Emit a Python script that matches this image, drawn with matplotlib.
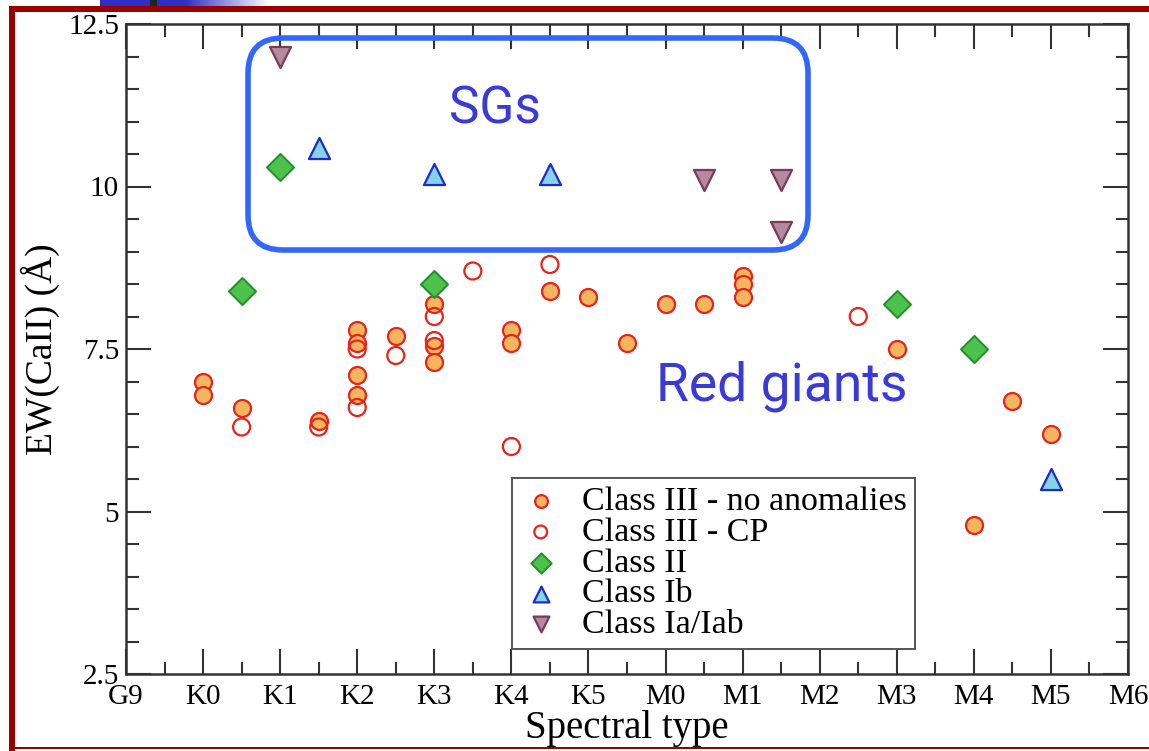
import numpy as np
import matplotlib
matplotlib.use("Agg")
import matplotlib.pyplot as plt
from matplotlib.patches import Rectangle, FancyBboxPatch
from matplotlib.colors import LinearSegmentedColormap
from matplotlib.ticker import MultipleLocator

# spectral type axis: G9 = 0, K0 = 1, ..., K5 = 6, M0 = 7, ..., M6 = 13
sp_labels = ["G9", "K0", "K1", "K2", "K3", "K4", "K5",
             "M0", "M1", "M2", "M3", "M4", "M5", "M6"]

# Class III, no anomalies
c3_x = [1, 1, 1.5, 2.5, 3, 3, 3, 3, 3.5, 4, 4, 4, 5, 5,
        5.5, 6, 6.5, 7, 7.5, 8, 8, 8, 10, 11, 11.5, 12]
c3_y = [7.0, 6.8, 6.6, 6.4, 7.8, 7.6, 7.1, 6.8, 7.7, 8.2, 7.55, 7.3, 7.8, 7.6,
        8.4, 8.3, 7.6, 8.2, 8.2, 8.62, 8.5, 8.3, 7.5, 4.8, 6.7, 6.2]

# Class III, chromospherically peculiar
cp_x = [1.5, 2.5, 3, 3, 3.5, 4, 4, 4.5, 5, 5.5, 9.5]
cp_y = [6.3, 6.3, 7.5, 6.6, 7.4, 8.0, 7.63, 8.7, 6.0, 8.8, 8.0]

# Class II
c2_x = [1.5, 2, 4, 10, 11]
c2_y = [8.4, 10.3, 8.5, 8.2, 7.5]

# Class Ib
cb_x = [2.5, 4, 5.5, 12]
cb_y = [10.6, 10.2, 10.2, 5.5]

# Class Ia/Iab
ca_x = [2, 7.5, 8.5, 8.5]
ca_y = [12.0, 10.1, 10.1, 9.3]

W, H = 1149, 751
fig = plt.figure(figsize=(W / 100, H / 100), dpi=100)
fig.patch.set_facecolor("white")

ax = fig.add_axes([126 / W, 1 - 674 / H, 1002 / W, 650 / H])

serif = ["Liberation Serif", "DejaVu Serif"]

ax.scatter(c3_x, c3_y, s=150, facecolor="#f3b65e", edgecolor="#e8231c",
           linewidth=1.6, zorder=3, label="Class III - no anomalies")
ax.scatter(cp_x, cp_y, s=150, facecolor="none", edgecolor="#e8231c",
           linewidth=1.6, zorder=4, label="Class III - CP")
ax.scatter(c2_x, c2_y, s=190, marker="D", facecolor="#4cc24c",
           edgecolor="#1f8f2a", linewidth=1.4, zorder=3, label="Class II")
ax.scatter(cb_x, cb_y, s=230, marker="^", facecolor="#86d3e6",
           edgecolor="#1b2bd0", linewidth=1.6, zorder=3, label="Class Ib")
ax.scatter(ca_x, ca_y, s=230, marker="v", facecolor="#b48a9e",
           edgecolor="#7a3b5a", linewidth=1.6, zorder=3, label="Class Ia/Iab")

ax.set_xlim(0, 13)
ax.set_ylim(2.5, 12.5)
ax.set_xticks(range(len(sp_labels)))
ax.set_xticklabels(sp_labels, family=serif, fontsize=21)
ax.xaxis.set_minor_locator(MultipleLocator(0.5))
ax.set_yticks([2.5, 5, 7.5, 10, 12.5])
ax.set_yticklabels(["2.5", "5", "7.5", "10", "12.5"], family=serif, fontsize=21)
ax.yaxis.set_minor_locator(MultipleLocator(0.5))

ax.tick_params(which="both", direction="in", top=True, right=True,
               color="#333333", width=1.5)
ax.tick_params(which="major", length=18)
ax.tick_params(which="minor", length=9)
ax.tick_params(axis="x", which="major", pad=7)
ax.tick_params(axis="y", which="major", pad=5)
for sp in ax.spines.values():
    sp.set_color("#333333")
    sp.set_linewidth(1.8)

ax.set_xlabel("Spectral type", family=serif, fontsize=28, labelpad=0)
ax.set_ylabel("EW(CaII) (Å)", family=serif, fontsize=27, labelpad=6)

leg = ax.legend(loc="upper left", bbox_to_anchor=(0.385, 0.302),
                borderaxespad=0, prop={"family": serif, "size": 24.5},
                scatterpoints=1, fancybox=False, framealpha=1,
                edgecolor="#555555", labelspacing=0.0, handletextpad=0.6,
                handlelength=1.2, borderpad=0.25, markerscale=0.75)
leg.get_frame().set_linewidth(1.4)

# supergiant region
box = FancyBboxPatch((248, H - 250), 560, 212,
                     boxstyle="round,pad=0,rounding_size=35",
                     transform=None, facecolor="none", edgecolor="#3366ff",
                     linewidth=4, zorder=5)
fig.add_artist(box)

fig.text(495 / W, 1 - 110 / H, "SGs", family="Roboto", fontsize=37,
         color="#3a3ad6", ha="center", va="center")
fig.text(782 / W, 1 - 386 / H, "Red giants", family="Roboto", fontsize=38.5,
         color="#3a3ad6", ha="center", va="center")

# slide frame
red = "#990000"
def px_rect(x0, y0, w, h, color):
    fig.add_artist(Rectangle((x0 / W, 1 - (y0 + h) / H), w / W, h / H,
                             transform=fig.transFigure, facecolor=color,
                             edgecolor="none", zorder=10))

px_rect(9, 6, W - 9, 6, red)
px_rect(9, 6, 6, H - 6, red)
px_rect(9, 747, W - 9, 2, red)

# title bar fade in the top corner
bar = fig.add_axes([100 / W, 1 - 6 / H, 170 / W, 6 / H])
fade = LinearSegmentedColormap.from_list("fade", ["#2f2fc4", "#2f2fc4", "#ffffff"])
bar.imshow(np.linspace(0, 1, 256)[None, :], aspect="auto", cmap=fade,
           extent=(0, 170, 0, 6))
bar.add_patch(Rectangle((50, 0), 7, 6, facecolor="#222222", edgecolor="none"))
bar.set_axis_off()

fig.savefig("out.png", dpi=100)
